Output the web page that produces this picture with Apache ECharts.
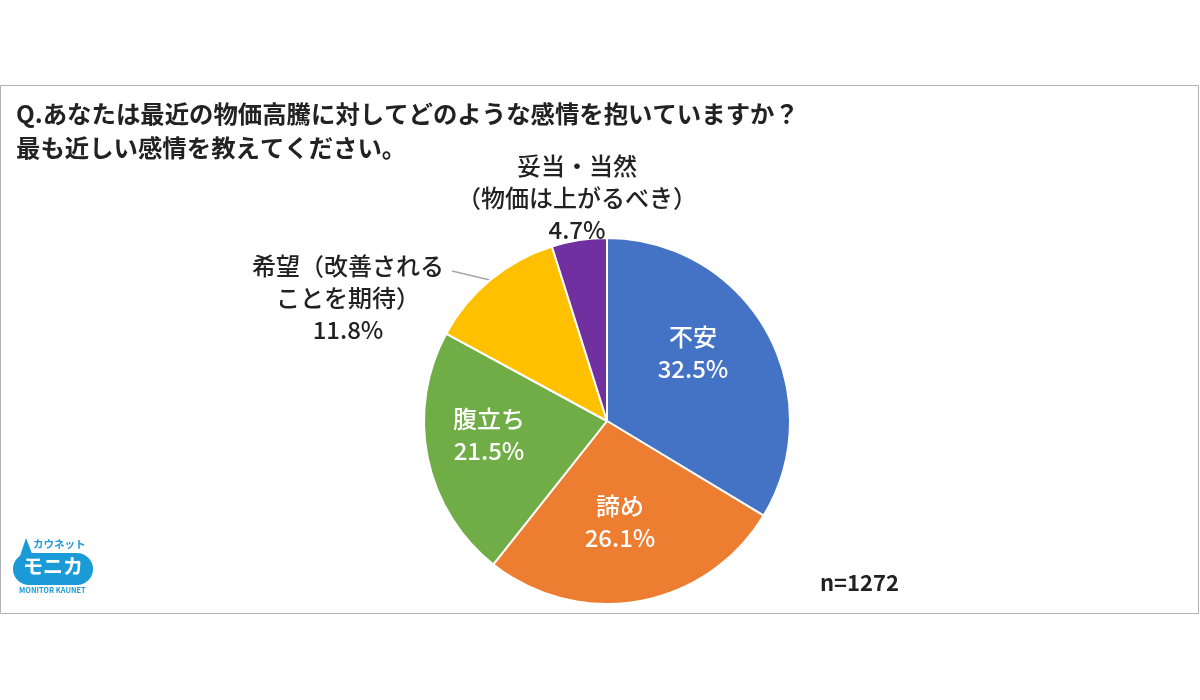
<!DOCTYPE html>
<html>
<head>
<meta charset="utf-8">
<style>
  html, body { margin: 0; padding: 0; background: #fff; }
  #chart { width: 1200px; height: 700px; }
</style>
<script src="https://cdn.jsdelivr.net/npm/echarts@6/dist/echarts.min.js"></script>
</head>
<body>
<div id="chart"></div>
<script>
const categories = ['不安', '諦め', '腹立ち', '希望', '妥当・当然'];
const labels = ['不安', '諦め', '腹立ち', '希望（改善される\nことを期待）', '妥当・当然\n（物価は上がるべき）'];
const values = [32.5, 26.1, 21.5, 11.8, 4.7];
const colors = ['#4472c4', '#ed7d31', '#70ad47', '#ffc000', '#7030a0'];
const titleLines = ['Q.あなたは最近の物価高騰に対してどのような感情を抱いていますか？', '最も近しい感情を教えてください。'];
const sampleText = 'n=1272';

const FONT = '"Noto Sans CJK JP", sans-serif';
const chart = echarts.init(document.getElementById('chart'));

// label centres, placed by hand as in the original
const labelPos = [
  { x: 693, y: 353 },
  { x: 620, y: 522 },
  { x: 489, y: 435 },
  { x: 348, y: 298 },
  { x: 577, y: 198 }
];

chart.setOption({
  backgroundColor: '#fff',
  animation: false,
  title: {
    text: titleLines.join('\n'),
    left: 11,
    top: 92,
    textStyle: { fontFamily: FONT, fontSize: 24.4, fontWeight: 'bold', color: '#222', lineHeight: 34 }
  },
  series: [{
    type: 'pie',
    center: [607, 421],
    radius: [0, 183],
    startAngle: 90,
    clockwise: true,
    itemStyle: { borderColor: '#fff', borderWidth: 2 },
    labelLine: { show: false },
    data: categories.map((name, i) => ({
      name: name,
      value: values[i],
      itemStyle: { color: colors[i] },
      label: i < 3
        ? { position: 'inside', color: '#fff' }
        : { position: 'outside', color: '#222' }
    })),
    label: {
      fontFamily: FONT,
      fontSize: 24,
      fontWeight: 500,
      lineHeight: 32,
      align: 'center',
      formatter: p => labels[p.dataIndex] + '\n' + values[p.dataIndex].toFixed(1) + '%'
    },
    labelLayout: p => ({
      x: labelPos[p.dataIndex].x,
      y: labelPos[p.dataIndex].y,
      align: 'center',
      verticalAlign: 'middle'
    })
  }],
  graphic: [
    // outer frame
    { type: 'rect', z: -1, shape: { x: 0.5, y: 85.5, width: 1198, height: 528 }, style: { fill: 'none', stroke: '#b0b0b0', lineWidth: 1 } },
    // leader for the 希望 label
    { type: 'line', shape: { x1: 452, y1: 271, x2: 490, y2: 280 }, style: { stroke: '#a6a6a6', lineWidth: 1.5 } },
    { type: 'text', left: 820, top: 572, style: { text: sampleText, fontFamily: FONT, fontSize: 22, fontWeight: 'bold', fill: '#222' } },
    // logo
    { type: 'rect', shape: { x: 13, y: 553, width: 80, height: 32, r: 16 }, style: { fill: '#1a9ad6' } },
    { type: 'polygon', shape: { points: [[26, 538], [20, 556], [33, 556]] }, style: { fill: '#1a9ad6' } },
    { type: 'text', left: 33, top: 539, style: { text: 'カウネット', fontFamily: FONT, fontSize: 10.5, fontWeight: 'bold', fill: '#1a9ad6' } },
    { type: 'text', left: 23, top: 556, style: { text: 'モニカ', fontFamily: FONT, fontSize: 20, fontWeight: 'bold', fill: '#fff' } },
    { type: 'text', left: 19, top: 586, style: { text: 'MONITOR KAUNET', fontFamily: FONT, fontSize: 7.4, fontWeight: 'bold', fill: '#1a9ad6' } }
  ]
});
</script>
</body>
</html>
